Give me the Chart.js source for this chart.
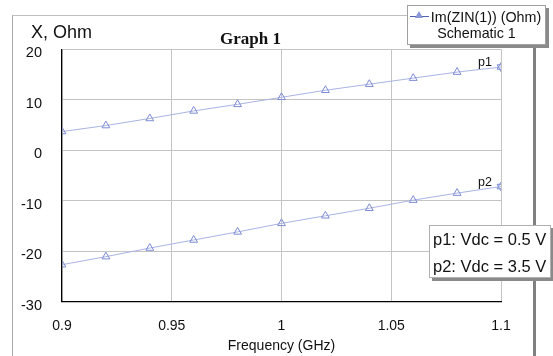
<!DOCTYPE html>
<html>
<head>
<meta charset="utf-8">
<script src="https://cdn.jsdelivr.net/npm/chart.js@4/dist/chart.umd.min.js"></script>
<style>
  html, body { margin: 0; padding: 0; background: #fff; }
  body { width: 553px; height: 356px; position: relative; overflow: hidden; font-family: "Liberation Sans", Arial, sans-serif; }
  #frame { position: absolute; left: 12px; top: 15px; width: 520px; height: 360px; border-left: 1px solid #a8a8a8; border-top: 1px solid #c0c0c0; border-right: 3px solid #808080; }
  canvas { position: absolute; left: 0; top: 0; }
  #ytitle { position: absolute; left: 31px; top: 22px; font-size: 18px; color: #111; white-space: nowrap; }
  #legend { position: absolute; left: 407px; top: 5px; width: 137px; height: 38px; background: #fff; border: 1px solid #a0a0a0; box-shadow: 3px 3px 0 #8a8a8a; font-size: 14.3px; color: #111; text-align: center; line-height: 16px; overflow: hidden; }
  #legend .row1 { margin-top: 3px; white-space: nowrap; margin-left: -2px; }
  #legend .sw { display: inline-block; width: 19px; height: 10px; vertical-align: 1px; margin-right: 2px; position: relative; }
  #legend .sw:before { content: ""; position: absolute; left: 0; right: 0; top: 5px; border-top: 1px solid #5060b8; }
  #legend .sw:after { content: ""; position: absolute; left: 5px; top: 0px; width: 0; height: 0; border-left: 4px solid transparent; border-right: 4px solid transparent; border-bottom: 7px solid #8a96d6; }
  #note { position: absolute; left: 429px; top: 225px; width: 117px; height: 51px; background: #fff; border: 1px solid #b0b0b0; box-shadow: 3px 3px 0 #8a8a8a; font-size: 16.5px; color: #111; line-height: 27px; padding-left: 3px; white-space: nowrap; overflow: hidden; }
</style>
</head>
<body>
<div id="frame"></div>
<canvas id="c" width="553" height="356"></canvas>
<div id="ytitle">X, Ohm</div>
<div id="legend"><div class="row1"><span class="sw"></span>Im(ZIN(1)) (Ohm)</div><div>Schematic 1</div></div>
<div id="note"><div>p1: Vdc = 0.5 V</div><div>p2: Vdc = 3.5 V</div></div>
<script>
// ---- data ----
const frequencies = [0.9, 0.92, 0.94, 0.96, 0.98, 1.0, 1.02, 1.04, 1.06, 1.08, 1.1];
const seriesP1 = [3.7, 4.9, 6.3, 7.8, 9.1, 10.5, 11.9, 13.1, 14.3, 15.5, 16.5];
const seriesP2 = [-22.7, -21.1, -19.4, -17.8, -16.2, -14.5, -13.0, -11.5, -9.9, -8.5, -7.2];
const seriesNames = ['p1', 'p2'];
const xTickValues = [0.9, 0.95, 1.0, 1.05, 1.1];
const xTickLabels = ['0.9', '0.95', '1', '1.05', '1.1'];
const yTickValues = [-30, -20, -10, 0, 10, 20];
const yTickLabels = ['-30', '-20', '-10', '0', '10', '20'];

const lineColor = '#aab3e3';
const markColor = '#7d8cd3';
const sans = '"Liberation Sans", Arial, sans-serif';

function pts(ys) { return frequencies.map((f, i) => ({ x: f, y: ys[i] })); }
function lastPt(ys) { const i = frequencies.length - 1; return [{ x: frequencies[i], y: ys[i] }]; }

const lineDs = (ys) => ({
  data: pts(ys), showLine: true, borderColor: lineColor, borderWidth: 1, pointStyle: 'triangle',
  pointRadius: 4.5, pointBorderColor: markColor, pointBackgroundColor: 'rgba(255,255,255,0)',
  pointBorderWidth: 1, tension: 0, fill: false
});
const endDs = (ys) => ({
  data: lastPt(ys), showLine: false, pointStyle: 'triangle', pointRotation: 180,
  pointRadius: 4.5, pointBorderColor: markColor, pointBackgroundColor: 'rgba(255,255,255,0)', pointBorderWidth: 1
});

const endLabels = {
  id: 'endLabels',
  afterDatasetsDraw(chart) {
    const ctx = chart.ctx, xs = chart.scales.x, ys = chart.scales.y;
    const all = [seriesP1, seriesP2];
    ctx.save();
    ctx.font = '12.5px ' + sans;
    ctx.fillStyle = '#111';
    ctx.textAlign = 'right';
    ctx.textBaseline = 'alphabetic';
    all.forEach((s, k) => {
      const i = frequencies.length - 1;
      const px = xs.getPixelForValue(frequencies[i]);
      const py = ys.getPixelForValue(s[i]);
      ctx.fillText(seriesNames[k], px - 9, py - 1);
    });
    ctx.restore();
  }
};

new Chart(document.getElementById('c'), {
  type: 'scatter',
  data: { datasets: [lineDs(seriesP1), lineDs(seriesP2), endDs(seriesP1), endDs(seriesP2)] },
  options: {
    responsive: false, animation: false,
    layout: { padding: { left: 0, right: 52, top: 0, bottom: 1.5 } },
    plugins: {
      legend: { display: false }, tooltip: { enabled: false },
      title: { display: true, text: 'Graph 1', color: '#111',
        font: { family: '"Liberation Serif", "Times New Roman", serif', size: 17, weight: 'bold', lineHeight: 1.2 },
        padding: { top: 29, bottom: 0 } }
    },
    scales: {
      x: {
        type: 'linear', min: 0.9, max: 1.1,
        afterBuildTicks: (s) => { s.ticks = xTickValues.map(v => ({ value: v })); },
        afterFit: (s) => { s.height = 53; },
        ticks: { callback: (v, i) => xTickLabels[i], color: '#111', padding: 16,
          font: { family: sans, size: 14 }, maxRotation: 0, autoSkip: false },
        grid: { color: '#c4c4c4', lineWidth: 1, drawTicks: false },
        border: { color: '#000', width: 1.2 },
        title: { display: true, text: 'Frequency (GHz)', color: '#111',
          font: { family: sans, size: 14 }, padding: { top: 4, bottom: 0 } }
      },
      y: {
        type: 'linear', min: -30, max: 20,
        afterBuildTicks: (s) => { s.ticks = yTickValues.map(v => ({ value: v })); },
        afterFit: (s) => { s.width = 62; },
        ticks: { callback: (v, i) => yTickLabels[i], color: '#111', padding: 20, labelOffset: 4,
          font: { family: sans, size: 14.5 }, autoSkip: false },
        grid: { color: '#c4c4c4', lineWidth: 1, drawTicks: false },
        border: { color: '#000', width: 1.2 }
      }
    }
  },
  plugins: [endLabels]
});
</script>
</body>
</html>
